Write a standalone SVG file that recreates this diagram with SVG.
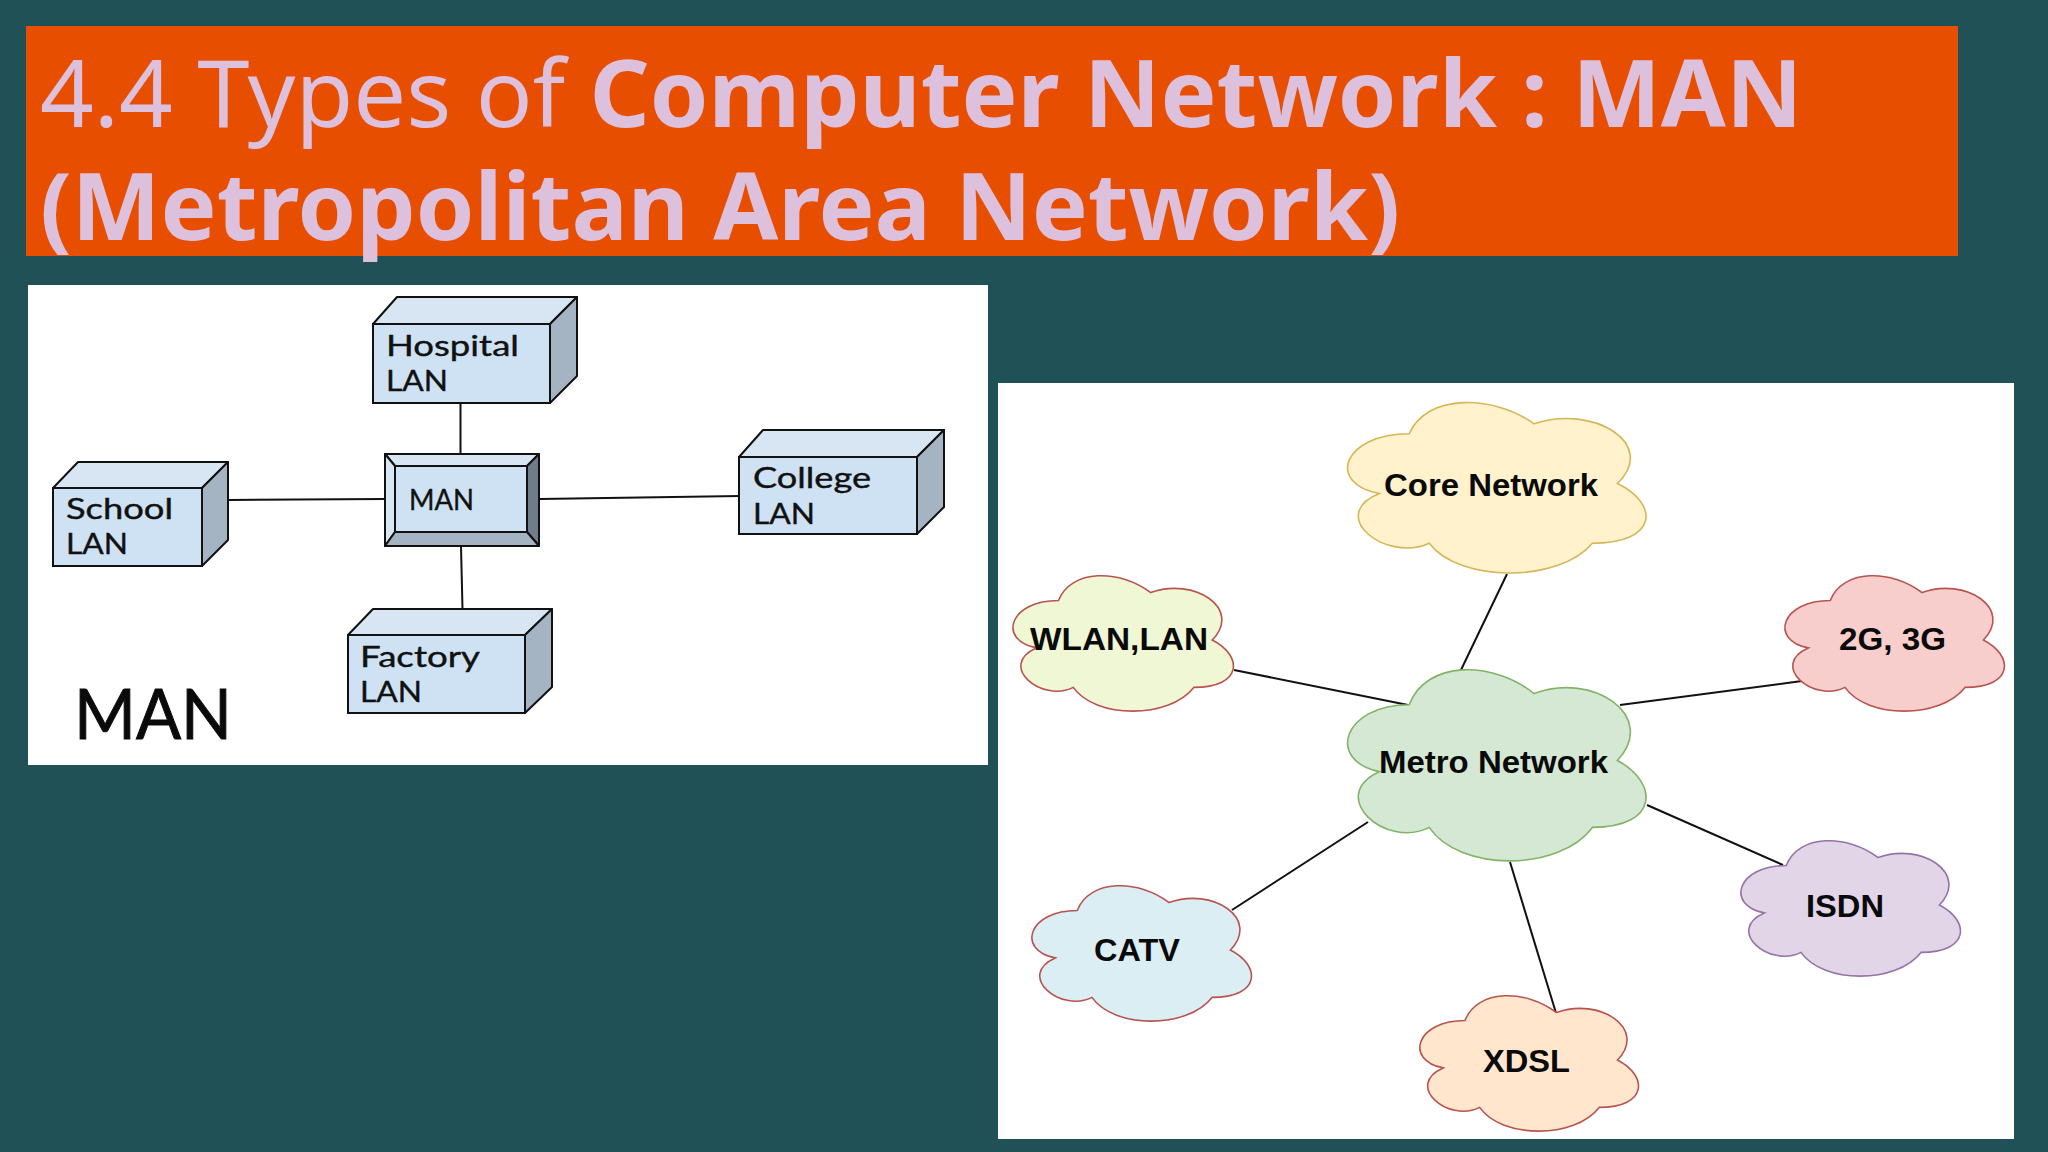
<svg xmlns="http://www.w3.org/2000/svg" xmlns:xlink="http://www.w3.org/1999/xlink" width="2048" height="1152" viewBox="0 0 2048 1152">
<style>
.title{font-family:"Noto Sans","Open Sans",sans-serif;font-size:94px;fill:#dcc0dc}
.b{font-weight:700}
.front{fill:#cfe2f3;stroke:#111;stroke-width:2}
.top{fill:#d8e5f3;stroke:#111;stroke-width:2;stroke-linejoin:round}
.side{fill:#a5b4c2;stroke:#111;stroke-width:2;stroke-linejoin:round}
.lan{font-family:"Lato","Inter",sans-serif;font-size:29px;fill:#111;stroke:#111;stroke-width:.4}
.c{font-family:"Liberation Sans",Arial,sans-serif;font-size:32px;font-weight:700;fill:#0a0a0a}
.cp{vector-effect:non-scaling-stroke}
.cl{stroke-width:1.6}
.ln{stroke:#111;stroke-width:2;fill:none}
</style>
<defs>
<path id="cloud" class="cp" d="M.25 .25C.05 .25 0 .5 .16 .55C0 .66 .18 .9 .31 .8C.4 1 .7 1 .8 .8C1 .8 1 .6 .875 .5C1 .3 .8 .1 .625 .2C.5 .05 .3 .05 .25 .25Z"/>
</defs>
<rect width="2048" height="1152" fill="#1f5157"/>
<rect x="26" y="26" width="1932" height="230" fill="#e84e00"/>
<text class="title" x="40" y="127">4.4 Types of <tspan class="b">Computer Network : MAN</tspan></text>
<text class="title b" x="40" y="240">(Metropolitan Area Network)</text>
<rect x="28" y="285" width="960" height="480" fill="#fff"/>
<rect x="998" y="383" width="1016" height="756" fill="#fff"/>

<g id="connectors">
<path class="ln" d="M460.500 403V454M229 500L385 499M540 499L740 496M461 546L462.500 609"/>
<path class="ln" d="M1507 574L1460 672M1234 670L1408 705M1802 681L1620 705M1647 805L1783 865M1368 822L1232 910M1510 862L1556 1013"/>
</g>

<g id="hospital-lan">
<path class="top" d="M373 324L397 297H577L550 324Z"/><path class="side" d="M550 324L577 297V376L550 403Z"/><rect class="front" x="373" y="324" width="177" height="79"/>
<text class="lan" x="386" y="356" textLength="133" lengthAdjust="spacingAndGlyphs">Hospital</text><text class="lan" x="386" y="391" textLength="62" lengthAdjust="spacingAndGlyphs">LAN</text>
</g>
<g id="college-lan">
<path class="top" d="M739 457L763 430H944L917 457Z"/><path class="side" d="M917 457L944 430V507L917 534Z"/><rect class="front" x="739" y="457" width="178" height="77"/>
<text class="lan" x="753" y="488" textLength="118" lengthAdjust="spacingAndGlyphs">College</text><text class="lan" x="753" y="524" textLength="62" lengthAdjust="spacingAndGlyphs">LAN</text>
</g>
<g id="school-lan">
<path class="top" d="M53 488L78 462H228L202 488Z"/><path class="side" d="M202 488L228 462V540L202 566Z"/><rect class="front" x="53" y="488" width="149" height="78"/>
<text class="lan" x="66" y="519" textLength="107" lengthAdjust="spacingAndGlyphs">School</text><text class="lan" x="66" y="554" textLength="62" lengthAdjust="spacingAndGlyphs">LAN</text>
</g>
<g id="factory-lan">
<path class="top" d="M348 635L373 609H552L525 635Z"/><path class="side" d="M525 635L552 609V687L525 713Z"/><rect class="front" x="348" y="635" width="177" height="78"/>
<text class="lan" x="360" y="667" textLength="120" lengthAdjust="spacingAndGlyphs">Factory</text><text class="lan" x="360" y="702" textLength="62" lengthAdjust="spacingAndGlyphs">LAN</text>
</g>
<g id="man-hub">
<path class="top" d="M385 454H539L527 466H395Z"/><path class="top" d="M385 454L395 466V532L385 546Z"/><path class="side" d="M539 454V546L527 532V466Z" style="fill:#6f7c89"/><path class="side" d="M385 546L395 532H527L539 546Z"/><rect class="front" x="395" y="466" width="132" height="66"/>
<text class="lan" x="409" y="510" textLength="65" lengthAdjust="spacingAndGlyphs">MAN</text>
</g>
<text id="man-caption" x="74" y="739" font-family="Lato,Inter,sans-serif" font-size="69" fill="#0a0a0a" stroke="#0a0a0a" stroke-width="1" textLength="158" lengthAdjust="spacingAndGlyphs">MAN</text>

<g id="core-network"><use xlink:href="#cloud" class="cl" transform="translate(1326 384) scale(333 199)" fill="#fff2cc" stroke="#d6b656"/><text class="c" x="1384" y="496" textLength="214" lengthAdjust="spacingAndGlyphs">Core Network</text></g>
<g id="metro-network"><use xlink:href="#cloud" class="cl" transform="translate(1326 649) scale(333 223)" fill="#d5e8d4" stroke="#82b366"/><text class="c" x="1379" y="773" textLength="229" lengthAdjust="spacingAndGlyphs">Metro Network</text></g>
<g id="wlan-lan"><use xlink:href="#cloud" class="cl" transform="translate(997 561) scale(246 158)" fill="#f0f7d4" stroke="#b85450"/><text class="c" x="1030" y="650" textLength="178" lengthAdjust="spacingAndGlyphs">WLAN,LAN</text></g>
<g id="g2-g3"><use xlink:href="#cloud" class="cl" transform="translate(1769 561) scale(245 158)" fill="#f8cecc" stroke="#b85450"/><text class="c" x="1839" y="650" textLength="107" lengthAdjust="spacingAndGlyphs">2G, 3G</text></g>
<g id="isdn"><use xlink:href="#cloud" class="cl" transform="translate(1725 826) scale(245 158)" fill="#e1d5e7" stroke="#9673a6"/><text class="c" x="1806" y="917" textLength="78" lengthAdjust="spacingAndGlyphs">ISDN</text></g>
<g id="catv"><use xlink:href="#cloud" class="cl" transform="translate(1016 871) scale(245 158)" fill="#dbeef4" stroke="#b85450"/><text class="c" x="1094" y="961" textLength="86" lengthAdjust="spacingAndGlyphs">CATV</text></g>
<g id="xdsl"><use xlink:href="#cloud" class="cl" transform="translate(1404 981) scale(244 158)" fill="#ffe6cc" stroke="#b85450"/><text class="c" x="1483" y="1072" textLength="87" lengthAdjust="spacingAndGlyphs">XDSL</text></g>
</svg>
